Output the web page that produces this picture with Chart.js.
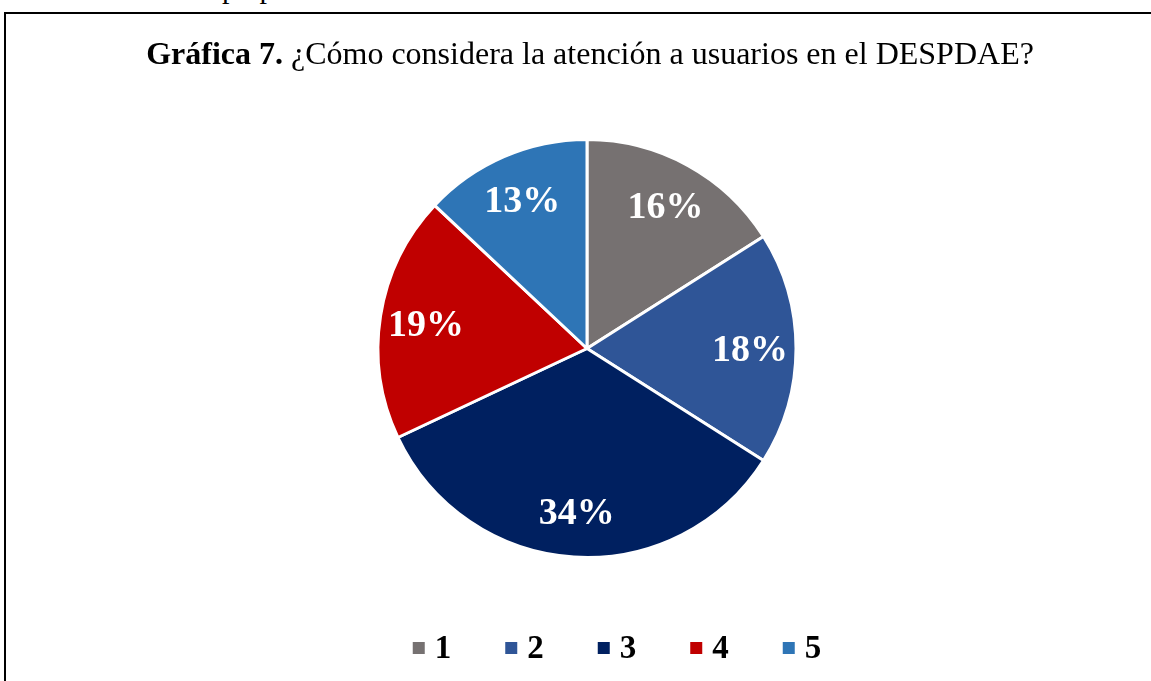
<!DOCTYPE html>
<html>
<head>
<meta charset="utf-8">
<script src="https://cdn.jsdelivr.net/npm/chart.js@4.4.0/dist/chart.umd.min.js"></script>
<style>
  html, body { margin: 0; padding: 0; background: #fff; overflow: hidden; }
  body { width: 1151px; height: 681px; position: relative; }
  #frame { position: absolute; left: 4px; top: 12px; width: 1180px; height: 720px; border: 2px solid #000; box-sizing: border-box; }
  #above { position: absolute; left: 222px; top: -29px; font: 30px "Liberation Serif", serif; color: #000; white-space: pre; }
  canvas { position: absolute; left: 0; top: 0; }
</style>
</head>
<body>
<div id="above">p   p</div>
<div id="frame"></div>
<canvas id="pie" width="1151" height="681"></canvas>
<script>
// data
const categories = ['1', '2', '3', '4', '5'];
const shares = [16, 18, 34, 19, 13];
const colors = ['#767171', '#2F5597', '#002060', '#C00000', '#2E75B6'];
const titleBold = 'Gráfica 7.';
const titleRest = ' ¿Cómo considera la atención a usuarios en el DESPDAE?';

const serif = '"Liberation Serif", "Times New Roman", serif';

// title, drawn in two weights
const titlePlugin = {
  id: 'titleText',
  afterDraw(chart) {
    const c = chart.ctx;
    c.save();
    c.fillStyle = '#000';
    c.textBaseline = 'alphabetic';
    c.font = 'bold 32px ' + serif;
    const w1 = c.measureText(titleBold).width;
    c.font = '32px ' + serif;
    const w2 = c.measureText(titleRest).width;
    let x = 590 - (w1 + w2) / 2;
    c.textAlign = 'left';
    c.font = 'bold 32px ' + serif;
    c.fillText(titleBold, x, 64);
    c.font = '32px ' + serif;
    c.fillText(titleRest, x + w1, 64);
    c.restore();
  }
};

// percent labels inside slices
const sliceLabels = {
  id: 'sliceLabels',
  afterDatasetsDraw(chart) {
    const c = chart.ctx;
    const meta = chart.getDatasetMeta(0);
    c.save();
    c.fillStyle = '#fff';
    c.font = 'bold 38px ' + serif;
    c.textAlign = 'center';
    c.textBaseline = 'middle';
    meta.data.forEach((arc, i) => {
      const p = arc.getProps(['x', 'y', 'startAngle', 'endAngle', 'outerRadius']);
      const mid = (p.startAngle + p.endAngle) / 2;
      const r = p.outerRadius * 0.78;
      c.fillText(shares[i] + '%', p.x + Math.cos(mid) * r, p.y + Math.sin(mid) * r + 3);
    });
    c.restore();
  }
};

// legend row at the bottom
const legendRow = {
  id: 'legendRow',
  afterDraw(chart) {
    const c = chart.ctx;
    c.save();
    c.font = 'bold 33px ' + serif;
    const box = 12, gap = 10, between = 54;
    const widths = categories.map(t => box + gap + c.measureText(t).width);
    const total = widths.reduce((a, b) => a + b, 0) + between * (categories.length - 1);
    let x = 617 - total / 2;
    const y = 648;
    c.textBaseline = 'middle';
    c.textAlign = 'left';
    categories.forEach((t, i) => {
      c.fillStyle = colors[i];
      c.fillRect(x, y - box / 2, box, box);
      c.fillStyle = '#000';
      c.fillText(t, x + box + gap, y + 1);
      x += widths[i] + between;
    });
    c.restore();
  }
};

new Chart(document.getElementById('pie'), {
  type: 'pie',
  data: {
    labels: categories,
    datasets: [{
      data: shares,
      backgroundColor: colors,
      borderColor: '#fff',
      borderWidth: 3
    }]
  },
  options: {
    responsive: false,
    animation: false,
    layout: { padding: { top: 138, bottom: 122, left: 300, right: 277 } },
    plugins: {
      legend: { display: false },
      title: { display: false },
      tooltip: { enabled: false }
    }
  },
  plugins: [titlePlugin, sliceLabels, legendRow]
});
</script>
</body>
</html>
